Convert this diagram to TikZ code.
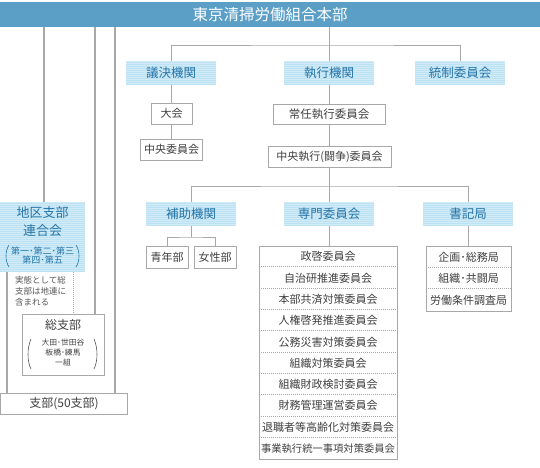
\documentclass[tikz,border=0pt]{standalone}
\usepackage{fontspec}
\setmainfont{Noto Sans CJK JP}
\usetikzlibrary{calc}
\definecolor{banc}{HTML}{5B9EC6}
\definecolor{hdrfill}{HTML}{BCE2F3}
\definecolor{hdrtxt}{HTML}{2574A8}
\definecolor{lnc}{HTML}{A8A8A8}
\definecolor{boxc}{HTML}{A8A8A8}
\definecolor{txtc}{HTML}{404040}
\definecolor{notec}{HTML}{555555}
\newcommand{\fs}[1]{\fontsize{#1}{#1}\selectfont}
\begin{document}
\begin{tikzpicture}[x=1pt,y=-1pt,
  banner/.style={fill=banc,text=white,inner sep=0,minimum width=540pt,minimum height=25pt,font=\fs{15.5}},
  hdr/.style={fill=hdrfill,text=hdrtxt,inner sep=0,minimum width=90pt,minimum height=24pt,font=\fs{12.5},
    path picture={\foreach \k in {0,2,...,80}{\draw[white,opacity=0.3,line width=0.7pt]
      ([yshift=-\k pt]path picture bounding box.north west) -- ([yshift=-\k pt]path picture bounding box.north east);}}},
  gbox/.style={draw=boxc,line width=1pt,fill=white,text=txtc,inner sep=0,font=\fs{11}},
  ltxt/.style={text=txtc,inner sep=0,font=\fs{11}},
  conn/.style={draw=lnc,line width=1pt},
  thk/.style={draw=lnc,line width=2pt},
  sep/.style={draw=lnc,line width=0.8pt,dash pattern=on 1pt off 1pt},
  parb/.style={draw=hdrtxt,line width=0.6pt},
  parg/.style={draw=notec,line width=0.6pt}]
\useasboundingbox (0,0) rectangle (540,467);

% banner
\node[banner] (ban) at (270,14.5) {東京清掃労働組合本部};

% first level headers
\node[hdr] (gk) at (171,73) {議決機関};
\node[hdr] (sk) at (329,73) {執行機関};
\node[hdr] (tk) at (460,73) {統制委員会};

% first level boxes
\node[gbox,minimum width=41pt,minimum height=21pt] (taikai) at (171.5,113.5) {大会};
\node[gbox,minimum width=62pt,minimum height=21pt] (chuo) at (171.5,149.5) {中央委員会};
\node[gbox,minimum width=112pt,minimum height=20pt,font=\fs{11.5}] (jonin) at (329,114) {常任執行委員会};
\node[gbox,minimum width=123pt,minimum height=21pt] (cshk) at (329.5,156.5) {中央執行(闘争)委員会};

% second level headers
\node[hdr] (hojo) at (191,214) {補助機関};
\node[hdr] (senmon) at (329,214) {専門委員会};
\node[hdr] (shoki) at (468,214) {書記局};

% small boxes
\node[gbox,minimum width=42pt,minimum height=22pt] (seinen) at (167,257) {青年部};
\node[gbox,minimum width=42pt,minimum height=22pt] (josei) at (215,257) {女性部};

% lists
\node[gbox,minimum width=138pt,minimum height=213pt] (senlist) at (328,352.5) {};
\foreach \t [count=\i] in {政啓委員会,自治研推進委員会,本部共済対策委員会,人権啓発推進委員会,公務災害対策委員会,組織対策委員会,組織財政検討委員会,財務管理運営委員会,退職者等高齢化対策委員会}{
  \node[ltxt] (s\i) at (328,{246+21.3*(\i-0.5)}) {\t};
}
\node[ltxt,font=\fs{10.3}] (s10) at (328,{246+21.3*9.5}) {事業執行統一事項対策委員会};
\foreach \i in {1,...,9}{
  \draw[sep] ([yshift=-21.3pt*\i,xshift=0.5pt]senlist.north west) -- ([yshift=-21.3pt*\i,xshift=-0.5pt]senlist.north east);
}

\node[gbox,minimum width=85pt,minimum height=65pt] (shokilist) at (468.5,278.5) {};
\foreach \t [count=\i] in {企画･総務局,組織･共闘局,労働条件調査局}{
  \node[ltxt] (k\i) at (468.5,{246+21.67*(\i-0.5)}) {\t};
}
\foreach \i in {1,2}{
  \draw[sep] ([yshift=-21.67pt*\i,xshift=0.5pt]shokilist.north west) -- ([yshift=-21.67pt*\i,xshift=-0.5pt]shokilist.north east);
}

% left side
\node[hdr,minimum width=85pt,minimum height=70pt] (chiku) at (42.5,237) {};
\node[text=hdrtxt,inner sep=0,align=center,font=\fontsize{13}{18}\selectfont] (chikut) at (42.5,222) {地区支部\\連合会};
\node[text=hdrtxt,inner sep=0,align=center,font=\fontsize{9}{9.8}\selectfont] (chikus) at (42.5,255.5) {第一･第二･第三\\第四･第五};
\draw[parb] (9,245) .. controls (5,251) and (5,261) .. (9,267);
\draw[parb] (76,245) .. controls (80,251) and (80,261) .. (76,267);

\node[gbox,minimum width=82pt,minimum height=61pt] (sou) at (63,344.5) {};
\node[text=txtc,inner sep=0,font=\fs{12}] (sout) at (63,325) {総支部};
\node[text=txtc,inner sep=0,align=center,font=\fontsize{7.8}{10}\selectfont] (sous) at (63,353) {大田･世田谷\\板橋･練馬\\一組};
\draw[parg] (31,339) .. controls (27,348) and (27,361) .. (31,369);
\draw[parg] (94,339) .. controls (98,348) and (98,361) .. (94,369);

\node[gbox,minimum width=127pt,minimum height=21pt,font=\fs{12}] (shibu) at (64,403.5) {支部(50支部)};

\node[text=notec,inner sep=0,align=left,anchor=north west,font=\fontsize{8.5}{11}\selectfont] (note) at (15,276.5) {実態として総\\支部は地連に\\含まれる};

% connectors: top
\coordinate (h1) at (0,45);
\draw[conn] (ban.south -| sk) -- (sk.north);
\draw[conn] (gk.north) |- (h1 -| sk) -| (tk.north);
\draw[conn] (gk.south -| taikai) -- (taikai.north);
\draw[conn] (taikai.south) -- (chuo.north -| taikai);
\draw[conn] (sk.south) -- (jonin.north -| sk);
\draw[conn] (jonin.south) -- (cshk.north -| jonin);

\coordinate (h2) at (0,186);
\draw[conn] (cshk.south -| senmon) -- (senmon.north);
\draw[conn] (hojo.north) |- (h2 -| senmon) -| (shoki.north);

\coordinate (h3) at (0,237);
\draw[conn] (hojo.south) -- (h3 -| hojo);
\draw[conn] (seinen.north) |- (h3 -| hojo) -| (josei.north);
\draw[conn] (senmon.south) -- (senlist.north -| senmon);
\draw[conn] (shoki.south) -- (shokilist.north -| shoki);

% connectors: left
\coordinate (v1) at (44,0);
\coordinate (v2) at (95,0);
\coordinate (v3) at (115,0);
\coordinate (v4) at (7,0);
\coordinate (v5) at (73,0);
\draw[thk] (ban.south -| v1) -- (chiku.north -| v1);
\draw[thk] (ban.south -| v2) -- (sou.north -| v2);
\draw[thk] (ban.south -| v3) -- (shibu.north -| v3);
\draw[thk] (chiku.south -| v4) -- (shibu.north -| v4);
\draw[sep] (chiku.south -| v5) -- (sou.north -| v5);
\end{tikzpicture}
\end{document}
